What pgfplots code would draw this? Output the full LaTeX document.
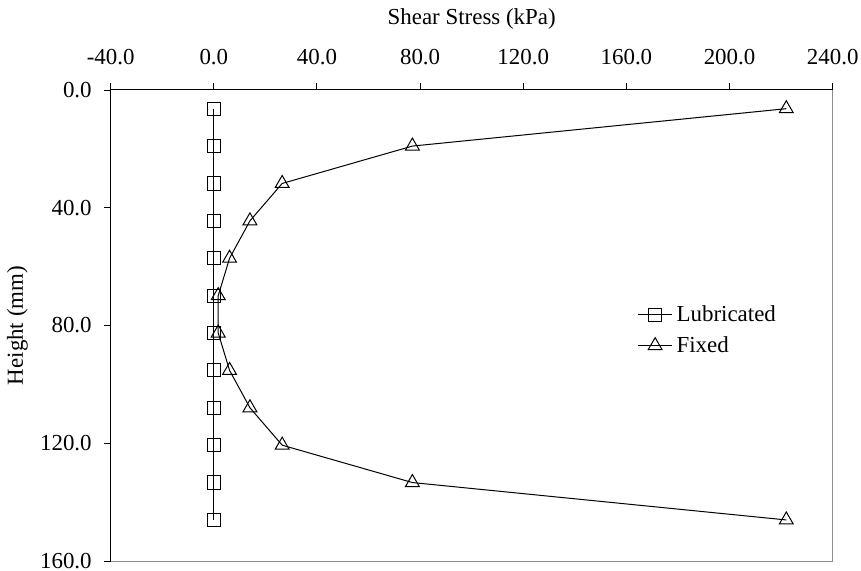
\documentclass[border=0pt]{standalone}
\usepackage{fontspec}
\setmainfont{Liberation Serif}
\usepackage{pgfplots}
\usepackage{pgfplotstable}
\pgfplotsset{compat=1.18}

% Shear stress along the specimen height (mm), one row per slice
\pgfplotstableread{
h      lub  fix
6.35   0    222
19.05  0    77
31.75  0    26.5
44.45  0    14
57.15  0    6.1
69.85  0    1.7
82.55  0    1.7
95.25  0    6.1
107.95 0    14
120.65 0    26.5
133.35 0    77
146.05 0    222
}\stress

\begin{document}
\begin{tikzpicture}[font=\fontsize{11.5}{13.8}\selectfont]
\begin{axis}[
  scale only axis,
  width=361bp, height=235.5bp,
  xmin=-40, xmax=240, ymin=0, ymax=160,
  y dir=reverse,
  xtick={-40,0,...,240}, ytick={0,40,...,160},
  xtick pos=right, xticklabel pos=right,
  ytick pos=left, yticklabel pos=left,
  tick align=outside,
  major tick length=3.5bp,
  every tick/.style={black, line width=0.5bp},
  axis line style={draw=none},
  xticklabel style={yshift=5.5bp},
  yticklabel style={xshift=-2.5bp},
  /pgf/number format/fixed,
  /pgf/number format/fixed zerofill,
  /pgf/number format/precision=1,
  /pgf/number format/assume math mode=true,
  xlabel={Shear Stress (kPa)},
  ylabel={Height (mm)},
  xlabel style={at={(axis description cs:0.5,1.139)}, anchor=base},
  ylabel style={at={(axis description cs:-0.1215,0.5)}, anchor=base},
  legend style={draw=none, fill=none, at={(0.721,0.49)}, anchor=west,
    row sep=2bp, font=\fontsize{11.5}{13.8}\selectfont},
  legend cell align=left,
]
\addplot[black, line width=0.5bp, mark=square, mark size=3.3bp]
  table[x=lub, y=h]{\stress};
\addlegendentry{Lubricated}
\addplot[black, line width=0.5bp, mark=triangle, mark size=4bp]
  table[x=fix, y=h]{\stress};
\addlegendentry{Fixed}
\end{axis}
% frame: dark on the left and top, grey on the right and bottom
\draw[black, line width=0.5bp] (current axis.south west) -- (current axis.north west) -- (current axis.north east);
\draw[black!45, line width=0.5bp] (current axis.north east) -- (current axis.south east) -- (current axis.south west);
\pgfresetboundingbox
\useasboundingbox ([xshift=-55.35bp, yshift=-5bp]current axis.south west)
  rectangle ([xshift=14.15bp, yshift=45bp]current axis.north east);
\end{tikzpicture}
\end{document}
